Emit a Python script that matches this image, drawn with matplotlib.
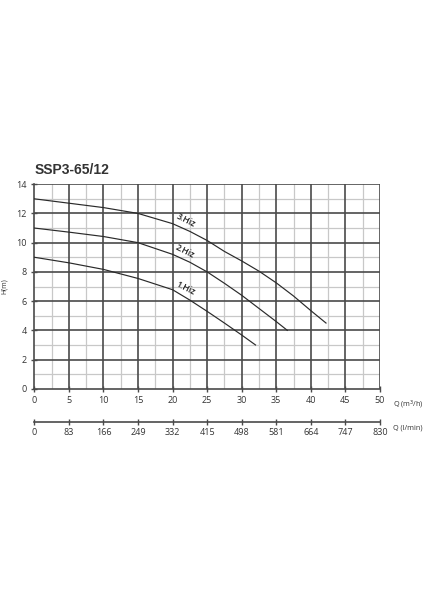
import matplotlib
matplotlib.use("Agg")
import matplotlib.pyplot as plt
import numpy as np

title = "SSP3-65/12"
q_ticks = [0, 5, 10, 15, 20, 25, 30, 35, 40, 45, 50]
lmin_labels = ["0", "83", "166", "249", "332", "415", "498", "581", "664", "747", "830"]
h_ticks = [0, 2, 4, 6, 8, 10, 12, 14]

q3 = [0, 5, 10, 15, 20, 22.5, 25, 27.5, 30, 32.5, 35, 37.5, 40, 42.2]
h3 = [13.0, 12.7, 12.4, 12.0, 11.3, 10.77, 10.15, 9.4, 8.75, 8.05, 7.25, 6.35, 5.35, 4.5]
q2 = [0, 5, 10, 15, 20, 22.5, 25, 27.5, 30, 32.5, 35, 36.6]
h2 = [11.0, 10.72, 10.42, 10.0, 9.2, 8.66, 8.0, 7.22, 6.4, 5.5, 4.6, 4.0]
q1 = [0, 5, 10, 15, 20, 22.5, 25, 27.5, 30, 32]
h1 = [9.0, 8.62, 8.17, 7.55, 6.78, 6.07, 5.3, 4.5, 3.68, 3.0]
curve_labels = ["3.Hiz", "2.Hiz", "1.Hiz"]
label_pos = [(21.9, 11.5), (21.8, 9.42), (21.9, 6.85)]

plt.rcParams['font.family'] = ['Open Sans', 'DejaVu Sans']

fig = plt.figure(figsize=(4.24, 6.0), dpi=100)
ax = fig.add_axes([0.081, 0.352, 0.815, 0.341])
ax.set_xlim(0, 50)
ax.set_ylim(0, 14)

dark = "#4a4a4a"
light = "#c8c8c8"
for xv in np.arange(2.5, 50, 5):
    ax.axvline(xv, color=light, lw=0.9, zorder=1)
for yv in np.arange(1, 14, 2):
    ax.axhline(yv, color=light, lw=0.9, zorder=1)
for xv in q_ticks[1:]:
    ax.axvline(xv, color=dark, lw=1.2, zorder=2)
for yv in h_ticks[1:]:
    ax.axhline(yv, color=dark, lw=1.2, zorder=2)

for q, h in [(q3, h3), (q2, h2), (q1, h1)]:
    ax.plot(q, h, color="#2a2a2a", lw=0.85, zorder=3)

for lab, (x, y) in zip(curve_labels, label_pos):
    ax.text(x, y, lab, rotation=-27, ha="center", va="center", fontsize=6.2,
            color="#222222", zorder=4, fontweight="semibold")

for s in ["top", "right"]:
    ax.spines[s].set_visible(False)
for s in ["left", "bottom"]:
    ax.spines[s].set_color(dark)
    ax.spines[s].set_linewidth(1.2)

ax.set_xticks(q_ticks)
ax.set_yticks(h_ticks)
ax.tick_params(direction="inout", length=4, width=1, colors=dark, labelsize=6.5,
               labelcolor="#333333")
ax.tick_params(axis="x", pad=3)
ax.set_ylabel("H(m)", fontsize=5, color="#333333")
ax.yaxis.set_label_coords(-0.076, 0.5)

ax.text(1.037, -0.08, "Q (m$^3$/h)", transform=ax.transAxes, fontsize=5.2,
        color="#333333", ha="left", va="center")

fig.text(0.081, 0.717, title, fontsize=10, fontweight="bold", color="#333333",
         family="Liberation Sans", ha="left", va="center")

ax2 = fig.add_axes([0.081, 0.2975, 0.815, 0.001])
ax2.set_xlim(0, 50)
ax2.set_yticks([])
for s in ["top", "right", "left"]:
    ax2.spines[s].set_visible(False)
ax2.spines["bottom"].set_color(dark)
ax2.spines["bottom"].set_linewidth(1.2)
ax2.patch.set_alpha(0)
ax2.set_xticks(q_ticks)
ax2.set_xticklabels(lmin_labels)
ax2.tick_params(direction="inout", length=4, width=1, colors=dark, labelsize=6.5,
                labelcolor="#333333", pad=2.5)
fig.text(0.926, 1 - 428.3 / 600, "Q (l/min)", fontsize=5.2, color="#333333",
         ha="left", va="center")

fig.savefig("out.png", dpi=100, facecolor="white")
